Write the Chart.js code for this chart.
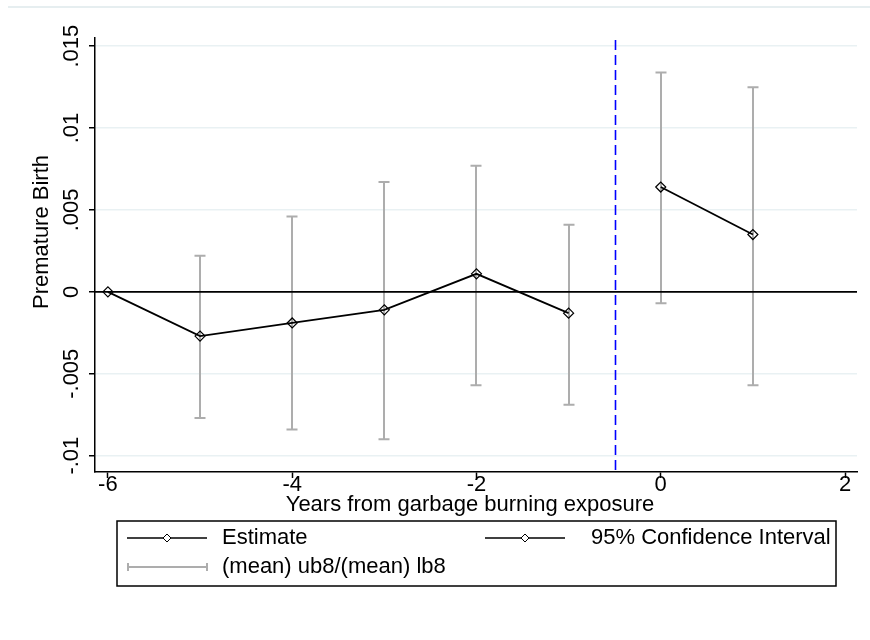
<!DOCTYPE html>
<html><head><meta charset="utf-8">
<script src="https://cdn.jsdelivr.net/npm/chart.js@4"></script>
<style>html,body{margin:0;padding:0;background:#fff}#wrap{position:relative;width:870px;height:640px}</style>
</head><body><div id="wrap"><canvas id="c" width="870" height="640"></canvas></div>
<script>
const FONT = "'Liberation Sans', Arial, sans-serif";
const FS = 22;
const preYears = [-6, -5, -4, -3, -2, -1];
const preEstimate = [0.0000, -0.0027, -0.0019, -0.0011, 0.0011, -0.0013];
const postYears = [0, 1];
const postEstimate = [0.0064, 0.0035];
const ciYears = [-5, -4, -3, -2, -1, 0, 1];
const ciUpper = [0.0022, 0.0046, 0.0067, 0.0077, 0.0041, 0.0134, 0.0125];
const ciLower = [-0.0077, -0.0084, -0.0090, -0.0057, -0.0069, -0.0007, -0.0057];
const xTickValues = [-6, -4, -2, 0, 2];
const yTickValues = [-0.01, -0.005, 0, 0.005, 0.01, 0.015];
const yTickLabels = ['-.01', '-.005', '0', '.005', '.01', '.015'];
const eventLine = -0.5;
const seriesLabels = ['Estimate', '95% Confidence Interval', '(mean) ub8/(mean) lb8'];
const xTitle = 'Years from garbage burning exposure';
const yTitle = 'Premature Birth';

const CI_COLOR = '#adadad';
const GRID_COLOR = '#e9f1f3';

function toXY(xs, ys) { return xs.map((x, i) => ({ x: x, y: ys[i] })); }

const stataPlugin = {
  id: 'stata',
  beforeDatasetsDraw(chart) {
    const ctx = chart.ctx, xs = chart.scales.x, ys = chart.scales.y, a = chart.chartArea;
    ctx.save();
    // CI bars
    ctx.strokeStyle = CI_COLOR; ctx.lineWidth = 2;
    ciYears.forEach((yr, i) => {
      const px = Math.round(xs.getPixelForValue(yr));
      const pt = ys.getPixelForValue(ciUpper[i]), pb = ys.getPixelForValue(ciLower[i]);
      ctx.beginPath();
      ctx.moveTo(px, pt); ctx.lineTo(px, pb);
      ctx.moveTo(px - 5.5, pt); ctx.lineTo(px + 5.5, pt);
      ctx.moveTo(px - 5.5, pb); ctx.lineTo(px + 5.5, pb);
      ctx.stroke();
    });
    // zero line
    const y0 = ys.getPixelForValue(0);
    ctx.strokeStyle = '#000'; ctx.lineWidth = 1.7;
    ctx.beginPath(); ctx.moveTo(a.left, y0); ctx.lineTo(a.right, y0); ctx.stroke();
    // event line
    const ex = Math.round(xs.getPixelForValue(eventLine)) + 0.5;
    ctx.strokeStyle = '#0000ff'; ctx.lineWidth = 1.6; ctx.setLineDash([10, 5]);
    ctx.beginPath(); ctx.moveTo(ex, a.top + 2); ctx.lineTo(ex, a.bottom); ctx.stroke();
    ctx.restore();
  },
  afterDraw(chart) {
    const ctx = chart.ctx, ys = chart.scales.y;
    ctx.save();
    ctx.fillStyle = '#000';
    ctx.font = FS + 'px ' + FONT;
    ctx.textAlign = 'center'; ctx.textBaseline = 'middle';
    // y tick labels (vertical)
    yTickValues.forEach((v, i) => {
      const py = ys.getPixelForValue(v);
      ctx.save(); ctx.translate(72, py); ctx.rotate(-Math.PI / 2);
      ctx.fillText(yTickLabels[i], 0, 0); ctx.restore();
    });
    // y title
    ctx.save(); ctx.translate(42, 232); ctx.rotate(-Math.PI / 2);
    ctx.fillText(yTitle, 0, 0); ctx.restore();
    // x title
    ctx.fillText(xTitle, 470, 505);
    // top faint border
    ctx.strokeStyle = '#e6eef0'; ctx.lineWidth = 2;
    ctx.beginPath(); ctx.moveTo(8, 7); ctx.lineTo(870, 7); ctx.stroke();
    // legend
    const bx = 117, by = 521, bw = 719, bh = 65;
    ctx.strokeStyle = '#000'; ctx.lineWidth = 1.5;
    ctx.strokeRect(bx, by, bw, bh);
    ctx.textAlign = 'left';
    const row1 = 538, row2 = 567;
    const drawMarkerKey = (x0, y) => {
      ctx.strokeStyle = '#000'; ctx.lineWidth = 1.7;
      ctx.beginPath(); ctx.moveTo(x0, y); ctx.lineTo(x0 + 80, y); ctx.stroke();
      ctx.fillStyle = '#fff'; ctx.lineWidth = 1;
      ctx.beginPath(); ctx.moveTo(x0 + 40, y - 4); ctx.lineTo(x0 + 44, y); ctx.lineTo(x0 + 40, y + 4); ctx.lineTo(x0 + 36, y); ctx.closePath();
      ctx.fill(); ctx.stroke();
      ctx.fillStyle = '#000';
    };
    drawMarkerKey(127, row1);
    ctx.fillText(seriesLabels[0], 222, row1);
    drawMarkerKey(485, row1);
    ctx.fillText(seriesLabels[1], 591, row1);
    ctx.strokeStyle = CI_COLOR; ctx.lineWidth = 2;
    ctx.beginPath(); ctx.moveTo(128, row2); ctx.lineTo(207, row2);
    ctx.moveTo(128, row2 - 4); ctx.lineTo(128, row2 + 4);
    ctx.moveTo(207, row2 - 4); ctx.lineTo(207, row2 + 4); ctx.stroke();
    ctx.fillStyle = '#000';
    ctx.fillText(seriesLabels[2], 222, row2);
    ctx.restore();
  }
};

const lineStyle = {
  borderColor: '#000', borderWidth: 1.8, pointStyle: 'rectRot', pointRadius: 5,
  pointBorderColor: '#000', pointBackgroundColor: 'rgba(255,255,255,0)', pointBorderWidth: 1.2,
  showLine: true, tension: 0, fill: false
};

new Chart(document.getElementById('c'), {
  type: 'scatter',
  data: {
    datasets: [
      Object.assign({ label: seriesLabels[0], data: toXY(preYears, preEstimate) }, lineStyle),
      Object.assign({ label: seriesLabels[1], data: toXY(postYears, postEstimate) }, lineStyle)
    ]
  },
  options: {
    responsive: false, animation: false, devicePixelRatio: 1,
    layout: { padding: { left: 0, right: 13, top: 38, bottom: 0 } },
    plugins: { legend: { display: false }, tooltip: { enabled: false } },
    scales: {
      x: {
        type: 'linear', min: -6.14, max: 2.13,
        afterFit: s => { s.height = 168; },
        afterBuildTicks: s => { s.ticks = xTickValues.map(v => ({ value: v })); },
        grid: { drawOnChartArea: false, drawTicks: true, tickLength: 6, tickColor: '#000', tickWidth: 1.5 },
        border: { display: true, color: '#000', width: 1.5 },
        ticks: { color: '#000', font: { family: FONT, size: FS }, padding: -6, maxRotation: 0, minRotation: 0,
                 callback: v => String(v) }
      },
      y: {
        type: 'linear', min: -0.011, max: 0.0155,
        afterFit: s => { s.width = 95; },
        afterBuildTicks: s => { s.ticks = yTickValues.map(v => ({ value: v })); },
        grid: { color: GRID_COLOR, lineWidth: 1.5, drawTicks: true, tickLength: 6, tickColor: '#000', tickWidth: 1.5 },
        border: { display: true, color: '#000', width: 1.5 },
        ticks: { display: false }
      }
    }
  },
  plugins: [stataPlugin]
});
</script>
</body></html>
